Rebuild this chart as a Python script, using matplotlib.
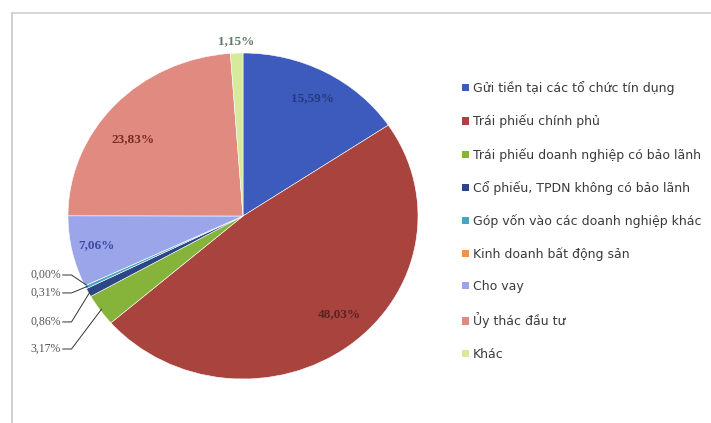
import matplotlib.pyplot as plt
import numpy as np
from matplotlib.lines import Line2D
from matplotlib.patches import Patch

categories = [
    "Gửi tiền tại các tổ chức tín dụng",
    "Trái phiếu chính phủ",
    "Trái phiếu doanh nghiệp có bảo lãnh",
    "Cổ phiếu, TPDN không có bảo lãnh",
    "Góp vốn vào các doanh nghiệp khác",
    "Kinh doanh bất động sản",
    "Cho vay",
    "Ủy thác đầu tư",
    "Khác",
]
shares = [15.59, 48.03, 3.17, 0.86, 0.31, 0.00, 7.06, 23.83, 1.15]
colors = ["#3d5bbd", "#a8433e", "#86b43a", "#2c4786", "#4aa6c0",
          "#f0924a", "#9aa5ea", "#e08a80", "#d6ea9c"]

fig = plt.figure(figsize=(7.11, 4.23), dpi=100)
fig.patch.set_facecolor("white")

# chart frame (left and top edges visible)
fig.add_artist(Line2D([12 / 711, 12 / 711], [0, 1 - 13 / 423], color="#c8c8c8", lw=1.2))
fig.add_artist(Line2D([12 / 711, 1], [1 - 13 / 423, 1 - 13 / 423], color="#d0d0d0", lw=1.2))

# pie is drawn slightly stretched horizontally
cx, cy, rx, ry = 243 / 711, 1 - 216 / 423, 175, 163
ax = fig.add_axes([cx - rx / 711, cy - ry / 423, 2 * rx / 711, 2 * ry / 423])
wedges, _ = ax.pie(shares, colors=colors, startangle=90, counterclock=False,
                   wedgeprops=dict(linewidth=0.4, edgecolor="white"))
ax.set_xlim(-1, 1)
ax.set_ylim(-1, 1)
ax.set_aspect("auto")


def fmt(v):
    return f"{v:.2f}%".replace(".", ",")


lab_font = dict(family="Liberation Serif", fontsize=9.5, fontweight="bold")

# labels inside the big slices and above the thin top slice
inside = {
    0: ((0.40, 0.72), "#24397d"),
    1: ((0.55, -0.60), "#5a2320"),
    6: ((-0.84, -0.18), "#3d4aa0"),
    7: ((-0.63, 0.47), "#7a2b26"),
    8: ((-0.04, 1.07), "#5e7a6a"),
}
for i, ((tx, ty), col) in inside.items():
    ax.text(tx, ty, fmt(shares[i]), ha="center", va="center", color=col,
            clip_on=False, **lab_font)

# small slices on the left with leader lines
left_slices = [5, 4, 3, 2]
label_y = [-0.362, -0.472, -0.650, -0.816]
for i, ly in zip(left_slices, label_y):
    w = wedges[i]
    ang = np.deg2rad((w.theta1 + w.theta2) / 2)
    px, py = 0.99 * np.cos(ang), 0.99 * np.sin(ang)
    ax.text(-1.04, ly, fmt(shares[i]), ha="right", va="center", color="#555555",
            family="Liberation Serif", fontsize=8.5, clip_on=False)
    ax.plot([-1.03, -0.98, px], [ly, ly, py], color="#333333", lw=0.7, clip_on=False)

handles = [Patch(facecolor=c, edgecolor="none") for c in colors]
fig.legend(handles, categories, loc="upper left", bbox_to_anchor=(451 / 711, 1 - 70 / 423),
           frameon=False, fontsize=9, labelspacing=1.54, handlelength=0.5,
           handleheight=0.5, handletextpad=0.35, labelcolor="#3a3a3a")

fig.savefig("out.png", dpi=100)
